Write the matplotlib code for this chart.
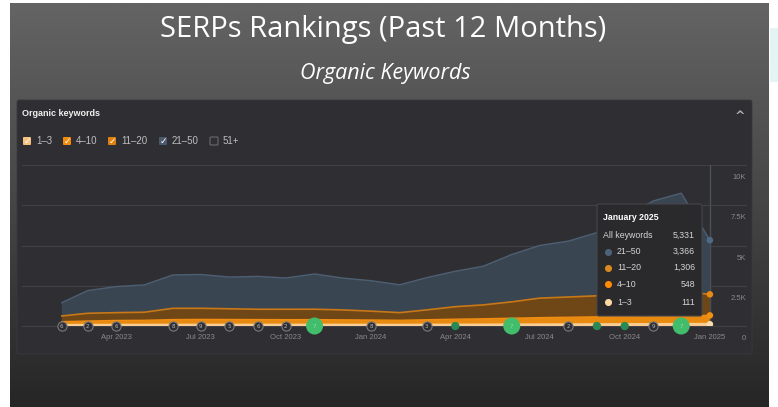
import matplotlib
matplotlib.use("Agg")
import matplotlib.pyplot as plt
from matplotlib.patches import FancyBboxPatch, Rectangle
import numpy as np
import pandas as pd

# ---------------- data ----------------
months = pd.date_range("2023-02-01", "2025-01-01", freq="MS")
kw_1_3 = [45, 50, 55, 55, 60, 60, 60, 60, 60, 62, 60, 58, 55, 60, 65, 70, 75, 80, 85, 90, 95, 100, 108, 111]
kw_4_10 = [225, 260, 290, 300, 340, 350, 345, 340, 335, 335, 325, 315, 300, 330, 360, 380, 410, 440, 460, 480, 500, 520, 540, 548]
kw_11_20 = [355, 480, 485, 500, 700, 690, 665, 640, 645, 645, 615, 550, 475, 610, 775, 860, 1015, 1210, 1255, 1305, 1355, 1430, 1500, 1306]
kw_21_50 = [825, 1410, 1620, 1695, 2070, 2100, 1970, 2040, 1940, 2190, 1980, 1890, 1730, 2000, 2200, 2400, 2940, 3270, 3470, 3925, 4850, 5720, 6100, 3366]

legend_labels = ["1–3", "4–10", "11–20", "21–50", "51+"]
x_tick_dates = pd.to_datetime(["2023-04-01", "2023-07-01", "2023-10-01", "2024-01-01",
                               "2024-04-01", "2024-07-01", "2024-10-01", "2025-01-01"])
x_tick_labels = ["Apr 2023", "Jul 2023", "Oct 2023", "Jan 2024", "Apr 2024", "Jul 2024", "Oct 2024", "Jan 2025"]
y_ticks = [0, 2500, 5000, 7500, 10000]
y_tick_labels = ["0", "2.5K", "5K", "7.5K", "10K"]

event_dates = pd.to_datetime(["2023-02-01", "2023-03-01", "2023-04-01", "2023-06-01", "2023-07-01",
                              "2023-08-01", "2023-09-01", "2023-10-01", "2023-11-01", "2024-01-01",
                              "2024-03-01", "2024-04-01", "2024-06-01", "2024-08-01", "2024-09-01",
                              "2024-10-01", "2024-11-01", "2024-12-01"])
event_kinds = ["count", "count", "count", "count", "count", "count", "count", "count", "major", "count",
               "count", "minor", "major", "count", "minor", "minor", "count", "major"]
event_labels = ["6", "2", "6", "8", "9", "5", "6", "2", "7", "8", "3", "", "7", "2", "", "", "9", "7"]

# ---------------- colours ----------------
c_1_3, c_4_10, c_11_20, c_21_50 = "#f6c27e", "#e88a10", "#6f4717", "#3a4552"
line_1_3, line_4_10, line_11_20, line_21_50 = "#f9cd92", "#f08d12", "#c87817", "#4e5f72"
panel = "#2f2f33"

W, H = 778, 407
fig = plt.figure(figsize=(W / 100, H / 100), dpi=100)
fig.patch.set_facecolor("white")

# ---------------- background axes in pixel coords ----------------
bg = fig.add_axes([0, 0, 1, 1])
bg.set_xlim(0, W)
bg.set_ylim(H, 0)
bg.axis("off")
grad = np.linspace(0, 1, 256).reshape(-1, 1)
top_c = np.array([100, 100, 100]) / 255
bot_c = np.array([38, 38, 38]) / 255
img = top_c[None, None, :] * (1 - grad[:, :, None]) + bot_c[None, None, :] * grad[:, :, None]
bg.imshow(img, extent=(10, 769, H, 3), aspect="auto", zorder=0)
bg.add_patch(Rectangle((770, 28), 8, 54, facecolor="#e4f4f4", edgecolor="none", zorder=0))
bg.add_patch(FancyBboxPatch((17, 100), 735, 254, boxstyle="round,pad=0,rounding_size=2",
                            facecolor=panel, edgecolor="#3a3a3e", lw=0.6, zorder=1))

bg.text(383, 29, "SERPs Rankings (Past 12 Months)", color="white", fontsize=21,
        family="Open Sans", ha="center", va="center", zorder=2)
bg.text(385, 73, "Organic Keywords", color="white", fontsize=15.5, style="italic",
        family="Open Sans", ha="center", va="center", zorder=2)
bg.text(22, 114, "Organic keywords", color="#f0f0f0", fontsize=6.5, weight="bold",
        family="Liberation Sans", ha="left", va="center", zorder=2)
bg.text(740, 116, "^", color="#b0b0b0", fontsize=9, weight="bold",
        family="DejaVu Sans", ha="center", va="center", zorder=2)

# legend checkboxes
box_x = [23, 63, 108, 159, 210]
box_cols = [c_1_3, "#f28c0c", "#e0800f", "#4a5a6c", None]
for bx, lab, col in zip(box_x, legend_labels, box_cols):
    if col is None:
        bg.add_patch(FancyBboxPatch((bx, 137), 8, 8, boxstyle="round,pad=0,rounding_size=1",
                                    facecolor="none", edgecolor="#6a6a6e", lw=0.8, zorder=2))
    else:
        bg.add_patch(FancyBboxPatch((bx, 137), 8, 8, boxstyle="round,pad=0,rounding_size=1",
                                    facecolor=col, edgecolor="none", zorder=2))
        bg.text(bx + 4, 141.3, "✓", color="white", fontsize=6.5, ha="center", va="center",
                family="DejaVu Sans", weight="bold", zorder=3)
    bg.text(bx + 13, 141, lab, color="#bdbdbd", fontsize=7, family="Liberation Sans",
            ha="left", va="center", zorder=2)

# ---------------- chart axes ----------------
x0, x1, ytop, ybot = 22, 746, 165, 326
ax = fig.add_axes([x0 / W, 1 - ybot / H, (x1 - x0) / W, (ybot - ytop) / H])
ax.set_facecolor("none")
ax.set_xlim(pd.Timestamp("2022-12-20"), pd.Timestamp("2025-02-09"))
ax.set_ylim(0, 10000)
for s in ax.spines.values():
    s.set_visible(False)
for yt in y_ticks:
    ax.axhline(yt, color="#404046", lw=0.8, zorder=0, clip_on=False)
ax.set_yticks([])

ax.set_xticks(x_tick_dates)
ax.set_xticklabels(x_tick_labels)
ax.tick_params(axis="x", length=0, pad=6, labelsize=5.5, labelcolor="#8a8a8a")
for t in ax.get_xticklabels():
    t.set_family("Liberation Sans")

for yt, yl in zip(y_ticks, y_tick_labels):
    ax.annotate(yl, xy=(1.0, yt), xycoords=("axes fraction", "data"), xytext=(0, -9),
                textcoords="offset points", ha="right", va="center", fontsize=5.5,
                color="#8a8a8a", family="Liberation Sans", annotation_clip=False)

a1 = np.array(kw_1_3)
a2 = a1 + np.array(kw_4_10)
a3 = a2 + np.array(kw_11_20)
a4 = a3 + np.array(kw_21_50)

ax.stackplot(months, kw_1_3, kw_4_10, kw_11_20, kw_21_50,
             colors=[c_1_3, c_4_10, c_11_20, c_21_50], lw=0, zorder=1)
ax.plot(months, a4, color=line_21_50, lw=1.0, zorder=2)
ax.plot(months, a3, color=line_11_20, lw=1.2, zorder=2)
ax.plot(months, a2, color=line_4_10, lw=1.0, zorder=2)
ax.plot(months, a1, color=line_1_3, lw=2.0, zorder=3)

# cursor line and end dots
ax.axvline(months[-1], color="#4a4f58", lw=1, zorder=1.5)
ax.scatter([months[-1]] * 4, [a4[-1], a3[-1], a2[-1], a1[-1]], s=22,
           c=["#4f6a85", "#e98b12", "#f39012", "#fbdcae"], zorder=6, linewidths=0)

# event markers on baseline
for d, k, lab in zip(event_dates, event_kinds, event_labels):
    if k == "count":
        ax.scatter([d], [0], s=44, facecolor=panel, edgecolor="#7a7a7e", linewidths=0.8,
                   zorder=7, clip_on=False)
        ax.text(d, 0, lab, color="#b8b8b8", fontsize=4, ha="center", va="center",
                zorder=8, clip_on=False)
    elif k == "major":
        ax.scatter([d], [0], s=150, facecolor="#42bd6c", edgecolor="none", zorder=7, clip_on=False)
        ax.text(d, 0, lab, color="#8fe0aa", fontsize=4, ha="center", va="center",
                zorder=8, clip_on=False)
    else:
        ax.scatter([d], [0], s=36, facecolor="#2a8a55", edgecolor="none", zorder=7, clip_on=False)

# ---------------- tooltip ----------------
tx0, ty0, tw, th = 597, 204, 105, 112
bg2 = fig.add_axes([0, 0, 1, 1], zorder=10)
bg2.set_xlim(0, W)
bg2.set_ylim(H, 0)
bg2.axis("off")
bg2.patch.set_alpha(0)
bg2.add_patch(FancyBboxPatch((tx0, ty0), tw, th, boxstyle="round,pad=0,rounding_size=2",
                             facecolor="#2a2a2d", edgecolor="#45454b", lw=0.8))
bg2.text(tx0 + 6, 217.5, months[-1].strftime("%B %Y"), color="white", fontsize=6.3,
         weight="bold", family="Liberation Sans", ha="left", va="center")
bg2.text(tx0 + 6, 235, "All keywords", color="#d4d4d4", fontsize=6.3,
         family="Liberation Sans", ha="left", va="center")
bg2.text(tx0 + 98, 235, f"{int(a4[-1]):,}", color="#d4d4d4", fontsize=6.3,
         family="Liberation Sans", ha="right", va="center")
rows = [("21–50", kw_21_50[-1], "#4d6278"), ("11–20", kw_11_20[-1], "#d98a1c"),
        ("4–10", kw_4_10[-1], "#ff8c00"), ("1–3", kw_1_3[-1], "#ffd9a2")]
row_y = [251.7, 267.7, 284.3, 302.3]
for (lab, val, col), ry in zip(rows, row_y):
    bg2.scatter([tx0 + 11.5], [ry], s=26, c=col, linewidths=0)
    bg2.text(tx0 + 20, ry, lab, color="#d4d4d4", fontsize=6.3, family="Liberation Sans",
             ha="left", va="center")
    bg2.text(tx0 + 98, ry, f"{val:,}", color="#d4d4d4", fontsize=6.3, family="Liberation Sans",
             ha="right", va="center")

fig.savefig("out.png", dpi=100, facecolor="white")
